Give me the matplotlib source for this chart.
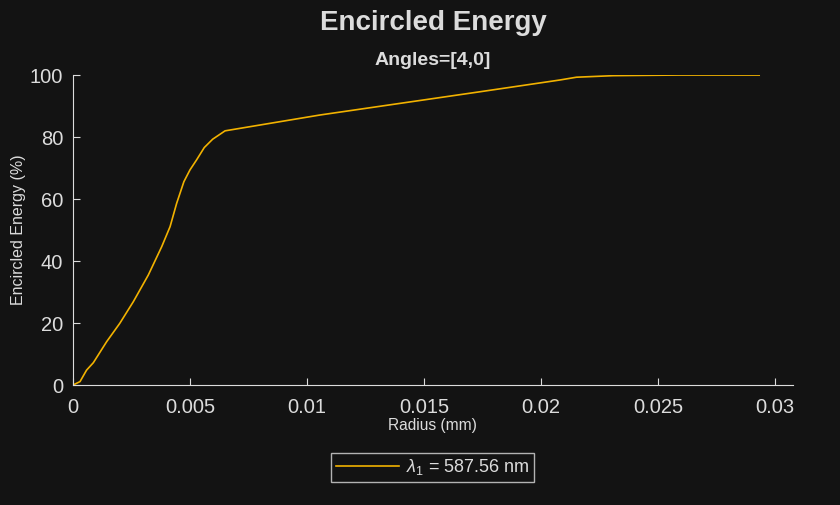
import matplotlib
matplotlib.use("Agg")
import matplotlib.pyplot as plt

plt.rcParams['font.family'] = ['Liberation Sans', 'DejaVu Sans']
plt.rcParams['mathtext.fontset'] = 'custom'
plt.rcParams['mathtext.rm'] = 'Liberation Sans'
plt.rcParams['mathtext.it'] = 'Liberation Sans:italic'

# radius (mm) and encircled energy (%)
radius = [0.0, 0.0003, 0.00058, 0.00087, 0.00144, 0.0020, 0.00258, 0.00322,
          0.00379, 0.00415, 0.00443, 0.00474, 0.0050, 0.00528, 0.00561,
          0.00597, 0.0065, 0.01055, 0.01739, 0.02081, 0.02152, 0.02309,
          0.0259, 0.02933]
energy = [0.0, 1.1, 4.8, 7.2, 14.0, 19.9, 26.9, 35.5, 44.6, 51.1, 58.6, 65.6,
          69.4, 72.6, 76.6, 79.3, 82.0, 87.1, 94.6, 98.4, 99.3, 99.8, 100.0,
          100.0]
label = r'$\lambda_{\mathrm{1}}$ = 587.56 nm'

bg = '#131313'
fg = '#dcdcdc'
line_col = '#f2b200'

fig = plt.figure(figsize=(8.4, 5.05), dpi=100, facecolor=bg)
ax = fig.add_axes([0.0869, 0.2376, 0.857, 0.6138], facecolor=bg)

ax.plot(radius, energy, color=line_col, lw=1.2, label=label)

ax.set_xlim(0, 0.03077)
ax.set_ylim(0, 100)
ax.set_xticks([0, 0.005, 0.01, 0.015, 0.02, 0.025, 0.03])
ax.set_xticklabels(['0', '0.005', '0.01', '0.015', '0.02', '0.025', '0.03'])
ax.set_yticks([0, 20, 40, 60, 80, 100])

for s in ['top', 'right']:
    ax.spines[s].set_visible(False)
for s in ['left', 'bottom']:
    ax.spines[s].set_color(fg)
ax.tick_params(direction='in', colors=fg, labelsize=14.5, length=5)
ax.tick_params(axis='x', pad=9)
ax.tick_params(axis='y', pad=7)

ax.set_xlabel('Radius (mm)', color=fg, fontsize=11.2, labelpad=1)
ax.set_ylabel('Encircled Energy (%)', color=fg, fontsize=11.5, labelpad=3)

fig.text(0.5155, 0.955, 'Encircled Energy', color=fg, fontsize=20,
         fontweight='bold', ha='center', va='center')
fig.text(0.5155, 0.881, 'Angles=[4,0]', color=fg, fontsize=14,
         fontweight='bold', ha='center', va='center')

leg = ax.legend(loc='center', bbox_to_anchor=(0.5, -0.265), frameon=True,
                fancybox=False, facecolor=bg, edgecolor=fg, fontsize=13,
                handlelength=3.5, handletextpad=0.4, borderpad=0.25)
for t in leg.get_texts():
    t.set_color(fg)
leg.get_frame().set_linewidth(1.0)

fig.savefig('out.png', dpi=100, facecolor=bg)
